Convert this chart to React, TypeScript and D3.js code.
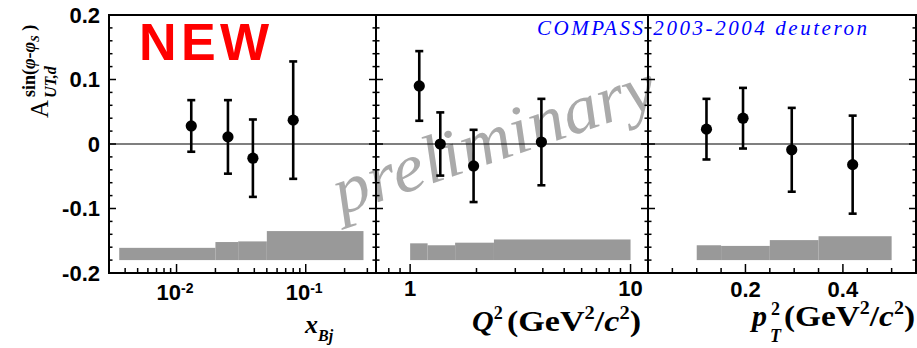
import React from 'react';
import * as d3 from 'd3';

// x_Bj panel
const xBjX = [0.013, 0.025, 0.039, 0.08];
const xBjY = [0.028, 0.011, -0.022, 0.037];
const xBjErr = [0.04, 0.057, 0.06, 0.091];
const xBjBins = [0.0036, 0.02, 0.03, 0.05, 0.28];
const xBjSys = [0.019, 0.028, 0.029, 0.045];

// Q2 panel
const q2X = [1.1, 1.37, 1.94, 3.94];
const q2Y = [0.09, 0.0, -0.034, 0.003];
const q2Err = [0.054, 0.049, 0.056, 0.067];
const q2Bins = [1, 1.2, 1.6, 2.4, 10];
const q2Sys = [0.026, 0.023, 0.027, 0.032];

// pT2 panel
const pt2X = [0.12, 0.195, 0.295, 0.42];
const pt2Y = [0.023, 0.04, -0.009, -0.032];
const pt2Err = [0.047, 0.047, 0.065, 0.076];
const pt2Bins = [0.1, 0.15, 0.25, 0.35, 0.5];
const pt2Sys = [0.023, 0.022, 0.031, 0.037];

const yTickLabels = ['0.2', '0.1', '0', '-0.1', '-0.2'];
const yTickValues = [0.2, 0.1, 0, -0.1, -0.2];
const sysBase = -0.18;

const W = 917;
const H = 348;
const top = 15;
const bottom = 273;
const sans = 'Liberation Sans, Arial, sans-serif';
const serif = 'Liberation Serif, Times New Roman, serif';

const y = d3.scaleLinear().domain([-0.2, 0.2]).range([bottom, top]);

type Panel = {
  x: any;
  xs: number[];
  ys: number[];
  errs: number[];
  bins: number[];
  sys: number[];
  minor: number[];
  major: number[];
  labels: { v: number; text: string; sup?: string }[];
  labelY: number;
};

const isDecade = (v: number) => Math.abs(Math.log10(v) - Math.round(Math.log10(v))) < 1e-6;

const panels: Panel[] = [
  (() => {
    const x = d3.scaleLog().domain([0.003, 0.35]).range([109, 376]);
    const t = x.ticks();
    return {
      x,
      xs: xBjX,
      ys: xBjY,
      errs: xBjErr,
      bins: xBjBins,
      sys: xBjSys,
      minor: t,
      major: t.filter(isDecade),
      labels: [
        { v: 0.01, text: '10', sup: '-2' },
        { v: 0.1, text: '10', sup: '-1' },
      ],
      labelY: 300,
    };
  })(),
  (() => {
    const x = d3.scaleLog().domain([0.7, 12]).range([376, 648]);
    const t = x.ticks();
    return {
      x,
      xs: q2X,
      ys: q2Y,
      errs: q2Err,
      bins: q2Bins,
      sys: q2Sys,
      minor: t,
      major: t.filter(isDecade),
      labels: [
        { v: 1, text: '1' },
        { v: 10, text: '10' },
      ],
      labelY: 296,
    };
  })(),
  (() => {
    const x = d3.scaleLinear().domain([0, 0.55]).range([648, 916]);
    const t = x.ticks(11);
    return {
      x,
      xs: pt2X,
      ys: pt2Y,
      errs: pt2Err,
      bins: pt2Bins,
      sys: pt2Sys,
      minor: t,
      major: t.filter((v) => Math.abs(v / 0.2 - Math.round(v / 0.2)) < 1e-6),
      labels: [
        { v: 0.2, text: '0.2' },
        { v: 0.4, text: '0.4' },
      ],
      labelY: 297,
    };
  })(),
];

const yMinor = y.ticks(20);

const PanelView: React.FC<{ p: Panel }> = ({ p }) => {
  const [x0, x1] = p.x.range();
  return (
    <g>
      {/* systematic bands */}
      {p.sys.map((s, i) => (
        <rect
          key={'s' + i}
          x={p.x(p.bins[i])}
          y={y(sysBase + s)}
          width={p.x(p.bins[i + 1]) - p.x(p.bins[i])}
          height={y(sysBase) - y(sysBase + s)}
          fill="#999999"
        />
      ))}
      {/* zero line */}
      <line x1={x0} x2={x1} y1={y(0)} y2={y(0)} stroke="#000" strokeWidth={1.2} />
      {/* y ticks both sides */}
      {yMinor.map((v, i) => {
        const major = Math.abs(v * 10 - Math.round(v * 10)) < 1e-6;
        const len = major ? 7 : 3.5;
        return (
          <g key={'yt' + i}>
            <line x1={x0} x2={x0 + len} y1={y(v)} y2={y(v)} stroke="#000" strokeWidth={1.5} />
            <line x1={x1} x2={x1 - len} y1={y(v)} y2={y(v)} stroke="#000" strokeWidth={1.5} />
          </g>
        );
      })}
      {/* x ticks */}
      {p.minor.map((v, i) => {
        const len = p.major.includes(v) ? 9 : 5;
        const xv = p.x(v);
        if (xv < x0 + 1 || xv > x1 - 1) return null;
        return <line key={'xt' + i} x1={xv} x2={xv} y1={bottom} y2={bottom - len} stroke="#000" strokeWidth={1.5} />;
      })}
      {/* frame */}
      <rect x={x0} y={top} width={x1 - x0} height={bottom - top} fill="none" stroke="#000" strokeWidth={2} />
      {/* error bars and points */}
      {p.xs.map((xv, i) => {
        const cx = p.x(xv);
        const yt = y(p.ys[i] + p.errs[i]);
        const yb = y(p.ys[i] - p.errs[i]);
        return (
          <g key={'pt' + i} stroke="#000" strokeWidth={2.6}>
            <line x1={cx} x2={cx} y1={yt} y2={yb} />
            <line x1={cx - 4} x2={cx + 4} y1={yt} y2={yt} />
            <line x1={cx - 4} x2={cx + 4} y1={yb} y2={yb} />
            <circle cx={cx} cy={y(p.ys[i])} r={5.6} fill="#000" stroke="none" />
          </g>
        );
      })}
      {/* x labels */}
      {p.labels.map((l, i) =>
        l.sup ? (
          <text key={'xl' + i} x={p.x(l.v) - 20} y={p.labelY} fontFamily={sans} fontWeight="bold" fontSize={22}>
            {l.text}
            <tspan fontSize={14} dy={-7}>
              {l.sup}
            </tspan>
          </text>
        ) : (
          <text
            key={'xl' + i}
            x={p.x(l.v)}
            y={p.labelY}
            textAnchor="middle"
            fontFamily={sans}
            fontWeight="bold"
            fontSize={22}
          >
            {l.text}
          </text>
        )
      )}
    </g>
  );
};

const UnitText: React.FC<{ x: number; y: number; len: number }> = ({ x, y: yy, len }) => (
  <text x={x} y={yy} fontFamily={serif} fontWeight="bold" fontSize={30} textLength={len} lengthAdjust="spacingAndGlyphs">
    (GeV<tspan fontSize={18} dy={-12}>2</tspan>
    <tspan dy={12}>/</tspan>
    <tspan fontStyle="italic">c</tspan>
    <tspan fontSize={18} dy={-12}>
      2
    </tspan>
    <tspan dy={12}>)</tspan>
  </text>
);

export default function App() {
  return (
    <svg width={W} height={H} style={{ position: 'absolute', left: 0, top: 0, background: '#fff' }}>
      <rect width={W} height={H} fill="#fff" />
      {/* preliminary watermark */}
      <g transform="translate(341,215) rotate(-19)">
        <text
          fontFamily={serif}
          fontStyle="italic"
          fontSize={68}
          fill="#aaaaaa"
          textLength={338}
          lengthAdjust="spacingAndGlyphs"
        >
          preliminary
        </text>
      </g>
      {panels.map((p, i) => (
        <PanelView key={i} p={p} />
      ))}
      {/* y tick labels */}
      {yTickValues.map((v, i) => (
        <text
          key={'yl' + i}
          x={100}
          y={y(v)}
          dy="0.36em"
          textAnchor="end"
          fontFamily={sans}
          fontWeight="bold"
          fontSize={22}
        >
          {yTickLabels[i]}
        </text>
      ))}
      {/* y title */}
      <g transform="translate(48,118) rotate(-90)">
        <text x={0} y={0} fontFamily={serif} fontSize={25}>
          A
        </text>
        <text x={20} y={8} fontFamily={serif} fontSize={16} fontStyle="italic" fontWeight="bold">
          UT,d
        </text>
        <text x={21} y={-13} fontFamily={serif} fontWeight="bold" fontSize={18}>
          sin(<tspan fontStyle="italic">φ</tspan>-<tspan fontStyle="italic">φ</tspan>
          <tspan fontSize={12} fontStyle="italic" dy={4}>
            S
          </tspan>
          <tspan dy={-4}> )</tspan>
        </text>
      </g>
      {/* NEW */}
      <text x={139} y={60} fill="#ff0000" fontFamily={sans} fontWeight="bold" fontSize={52} textLength={130}>
        NEW
      </text>
      {/* COMPASS label */}
      <text x={537} y={35} fill="#0000ff" fontFamily={serif} fontStyle="italic" fontSize={21} textLength={330}>
        COMPASS 2003-2004 deuteron
      </text>
      {/* x titles */}
      <text x={305} y={333} fontFamily={serif} fontWeight="bold" fontStyle="italic" fontSize={26}>
        x
        <tspan fontSize={16} dy={8}>
          Bj
        </tspan>
      </text>
      <text x={472} y={331} fontFamily={serif} fontWeight="bold" fontSize={30}>
        <tspan fontStyle="italic">Q</tspan>
        <tspan fontSize={18} dy={-12}>
          2
        </tspan>
      </text>
      <UnitText x={507} y={331} len={134} />
      <text x={752} y={326} fontFamily={serif} fontWeight="bold" fontStyle="italic" fontSize={30}>
        p
      </text>
      <text x={771} y={315} fontFamily={serif} fontWeight="bold" fontSize={18}>
        2
      </text>
      <text x={770} y={342} fontFamily={serif} fontWeight="bold" fontStyle="italic" fontSize={18}>
        T
      </text>
      <UnitText x={784} y={326} len={131} />
    </svg>
  );
}
